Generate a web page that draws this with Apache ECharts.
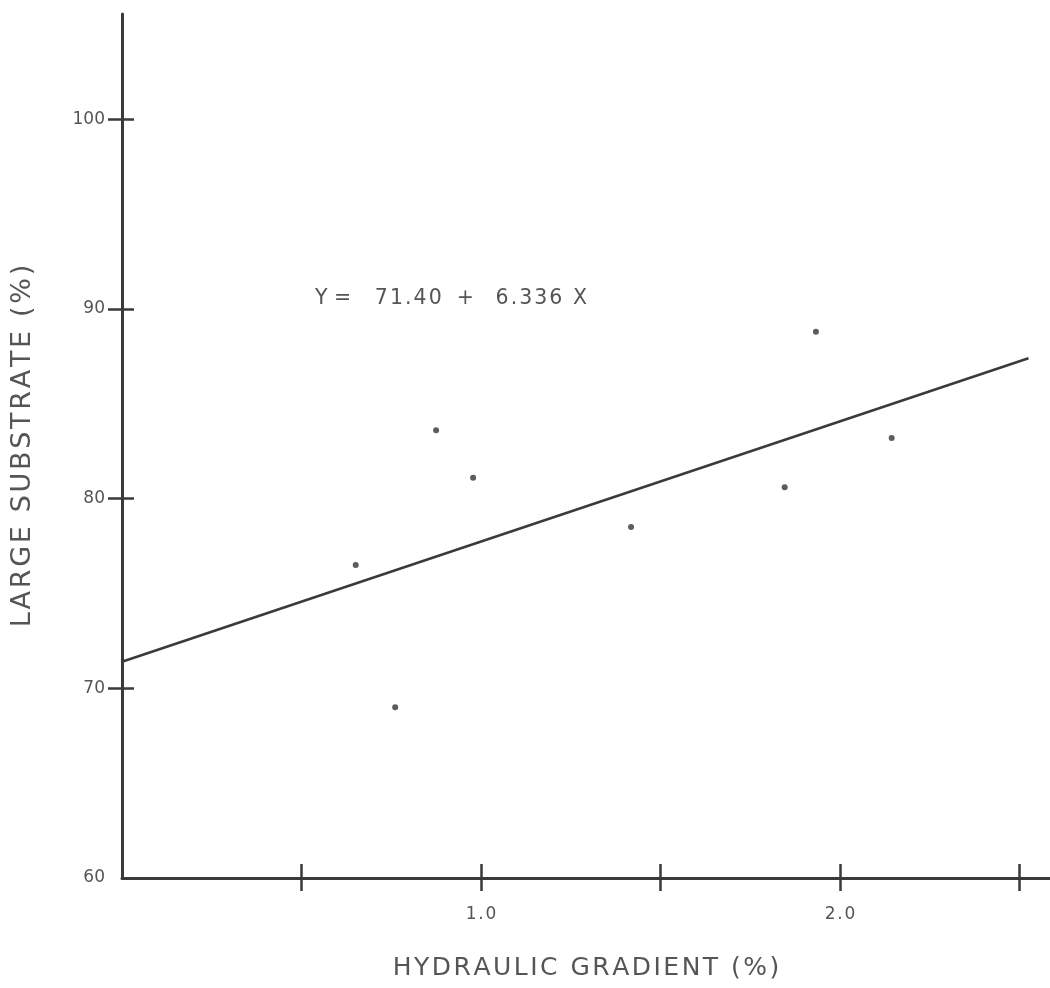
<!doctype html>
<html>
<head>
  <meta charset="UTF-8" />
  <title>Large substrate vs hydraulic gradient</title>
  <script src="https://cdn.jsdelivr.net/npm/echarts@6/dist/echarts.min.js"></script>
  <style>
    html, body { margin: 0; padding: 0; background: #fff; }
    #chart { width: 1050px; height: 988px; }
  </style>
</head>
<body>
  <div id="chart"></div>
  <script>
    // observed points: hydraulic gradient (%) and large substrate (%)
    const gradient = [0.651, 0.761, 0.875, 0.978, 1.418, 1.846, 1.933, 2.144];
    const substrate = [76.5, 69.0, 83.6, 81.1, 78.5, 80.6, 88.8, 83.2];
    // fitted line Y = a + bX
    const intercept = 71.40;
    const slope = 6.336;
    const fitRange = [0, 2.525];
    const xTicks = [0.5, 1.0, 1.5, 2.0, 2.5];
    const xLabels = [1.0, 2.0];
    const yTicks = [70, 80, 90, 100];
    const yLabels = [60, 70, 80, 90, 100];

    const ink = '#3a3a3a';
    const textInk = '#555';
    const font = 'DejaVu Sans';
    const hair = '\u200A';
    // lettering-guide look: pad letters apart with hair spaces
    const spaced = s => s.split('').join(hair);

    const points = gradient.map((x, i) => [x, substrate[i]]);
    const fitLine = fitRange.map(x => [x, intercept + slope * x]);

    const chart = echarts.init(document.getElementById('chart'));

    const xBase = {
      type: 'value', min: 0, max: 2.585, interval: 0.5,
      splitLine: { show: false },
      axisLine: { onZero: false },
    };
    const yBase = {
      type: 'value', min: 60, max: 105.55, interval: 10,
      splitLine: { show: false },
      axisLine: { onZero: false },
    };

    const eqText = 'Y =   ' + hair + hair + spaced(intercept.toFixed(2)) + '  ' + hair + '+   ' + hair +
      spaced(slope.toFixed(3)) + ' ' + hair + hair + 'X';

    chart.setOption({
      backgroundColor: '#fff',
      animation: false,
      grid: { left: 122, right: 0, top: 14, bottom: 110 },
      xAxis: [
        Object.assign({}, xBase, {
          position: 'bottom',
          axisLine: { show: true, onZero: false, lineStyle: { color: ink, width: 3 } },
          axisTick: { show: true, customValues: xTicks, length: 13, lineStyle: { color: ink, width: 2.5 } },
          axisLabel: {
            customValues: xLabels, margin: 28,
            formatter: v => spaced(v.toFixed(1)),
            color: textInk, fontSize: 17, fontFamily: font
          },
          name: spaced('HYDRAULIC GRADIENT (%)'),
          nameLocation: 'middle', nameGap: 78,
          nameTextStyle: { color: textInk, fontSize: 25, fontFamily: font }
        }),
        Object.assign({}, xBase, {
          position: 'bottom',
          axisLine: { show: false, onZero: false },
          axisTick: { show: true, inside: true, customValues: xTicks, length: 14, lineStyle: { color: ink, width: 2.5 } },
          axisLabel: { show: false }
        })
      ],
      yAxis: [
        Object.assign({}, yBase, {
          position: 'left',
          axisLine: { show: true, onZero: false, lineStyle: { color: ink, width: 3 } },
          axisTick: { show: true, customValues: yTicks, length: 14, lineStyle: { color: ink, width: 2.5 } },
          axisLabel: {
            customValues: yLabels, margin: 17,
            color: textInk, fontSize: 17, fontFamily: font
          },
          name: spaced('LARGE SUBSTRATE (%)'),
          nameLocation: 'middle', nameGap: 86,
          nameTextStyle: { color: textInk, fontSize: 27, fontFamily: font }
        }),
        Object.assign({}, yBase, {
          position: 'left',
          axisLine: { show: false, onZero: false },
          axisTick: { show: true, inside: true, customValues: yTicks, length: 12, lineStyle: { color: ink, width: 2.5 } },
          axisLabel: { show: false }
        })
      ],
      graphic: [{
        type: 'text', left: 315, top: 288,
        style: {
          text: eqText,
          fill: textInk, font: '20.5px "DejaVu Sans"'
        }
      }],
      series: [
        {
          type: 'line', data: fitLine, xAxisIndex: 0, yAxisIndex: 0,
          showSymbol: false, symbol: 'none',
          lineStyle: { color: ink, width: 2.5 }
        },
        {
          type: 'scatter', data: points, xAxisIndex: 0, yAxisIndex: 0,
          symbolSize: 6, itemStyle: { color: '#333' }
        }
      ]
    });
  </script>
</body>
</html>
